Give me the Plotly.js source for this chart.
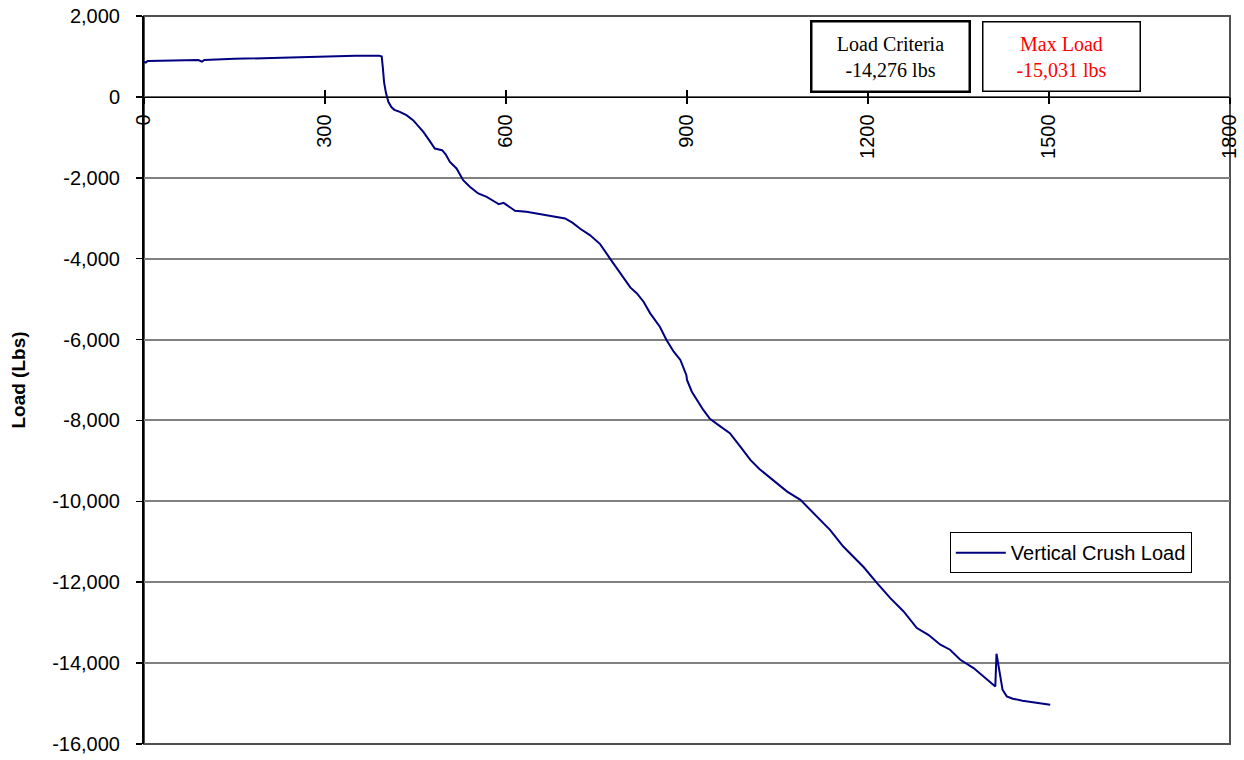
<!DOCTYPE html>
<html>
<head>
<meta charset="utf-8">
<script src="https://cdn.plot.ly/plotly-3.0.1.min.js"></script>
<style>
  html, body { margin: 0; padding: 0; background: #ffffff; }
  #chart { width: 1244px; height: 760px; }
</style>
</head>
<body>
<div id="chart"></div>
<script>
// Elapsed sample (x) and measured vertical crush load (lbs)
const timeValues = [
  0, 3, 6, 50, 90, 96, 100, 150, 200, 250, 300, 350, 390,
  394, 396, 398, 401, 405, 410, 415, 424, 435, 446, 457, 463, 474, 482, 494, 500,
  507, 518, 529, 540, 554, 568, 580, 588, 596, 605, 615, 634, 651, 678,
  698, 710, 723, 739, 756, 773, 786, 797, 806, 817, 828, 839, 855, 866,
  878, 889, 897, 899, 900, 908, 927, 938, 950, 971, 990, 1005, 1020,
  1038, 1050, 1066, 1088, 1110, 1137, 1159, 1176, 1193, 1215, 1237,
  1259, 1281, 1300, 1320, 1336, 1353, 1375, 1391, 1408, 1411, 1413,
  1419, 1423, 1430, 1440, 1456, 1472, 1490, 1502
];
const loadValues = [
  864, 850, 890, 900, 910, 870, 915, 940, 960, 985, 1000, 1015, 1020,
  1000, 700, 350, 100, -120, -250, -320, -371, -453, -576, -760, -866, -1100, -1276, -1318, -1420,
  -1607, -1770, -2059, -2220, -2387, -2471, -2580, -2652, -2619, -2720, -2817, -2842, -2882, -2948,
  -3005, -3110, -3260, -3417, -3640, -4010, -4280, -4529, -4710, -4860, -5065, -5352, -5683, -6011,
  -6300, -6505, -6820, -6880, -7000, -7289, -7741, -7960, -8090, -8316, -8680, -8976, -9200,
  -9428, -9580, -9759, -9963, -10292, -10705, -11117, -11380, -11630, -12022, -12393,
  -12723, -13134, -13300, -13546, -13669, -13917, -14122, -14329, -14535, -14576, -13768,
  -14245, -14657, -14822, -14880, -14928, -14962, -14995, -15031
];
const seriesName = "Vertical Crush Load";
const xTickValues = [0, 300, 600, 900, 1200, 1500, 1800];
const yTickValues = [2000, 0, -2000, -4000, -6000, -8000, -10000, -12000, -14000, -16000];
const yTickLabels = ["2,000", "0", "-2,000", "-4,000", "-6,000", "-8,000", "-10,000", "-12,000", "-14,000", "-16,000"];
const yTitle = "Load (Lbs)";
const criteriaLabel = "Load Criteria<br>-14,276 lbs";
const maxLoadLabel = "Max Load<br>-15,031 lbs";

const traces = [
  {
    x: timeValues, y: loadValues, type: "scatter", mode: "lines",
    name: seriesName, xaxis: "x", yaxis: "y",
    line: { color: "#000080", width: 2 }, hoverinfo: "skip"
  },
  {
    x: timeValues, y: loadValues, type: "scatter", mode: "lines",
    xaxis: "x2", yaxis: "y", showlegend: false, opacity: 0,
    line: { color: "#000080", width: 0 }, hoverinfo: "skip"
  }
];

const yPos = 16000 / 18000;

const layout = {
  width: 1244, height: 760,
  margin: { l: 144, r: 14, t: 16, b: 16 },
  paper_bgcolor: "#ffffff", plot_bgcolor: "#ffffff",
  font: { family: "Liberation Sans, Arial, sans-serif", size: 20, color: "#000000" },
  showlegend: true,
  xaxis: {
    range: [0, 1800], tickvals: xTickValues, tickformat: "d",
    tickangle: -90, anchor: "free", position: yPos,
    showgrid: false, zeroline: false,
    showline: true, linecolor: "#000000", linewidth: 1.5,
    ticks: "outside", ticklen: 6, tickwidth: 1.5, tickcolor: "#000000",
    tickfont: { size: 20 }, ticklabelstandoff: 2
  },
  xaxis2: {
    range: [0, 1800], tickvals: xTickValues, overlaying: "x",
    anchor: "free", position: yPos, side: "bottom",
    showgrid: false, zeroline: false, showline: false, showticklabels: false,
    ticks: "inside", ticklen: 7, tickwidth: 1.5, tickcolor: "#000000"
  },
  yaxis: {
    range: [-16000, 2000], tickvals: yTickValues, ticktext: yTickLabels,
    showgrid: true, gridcolor: "#808080", gridwidth: 2,
    zeroline: true, zerolinecolor: "#606060", zerolinewidth: 2,
    showline: true, linecolor: "#000000", linewidth: 2,
    ticks: "outside", ticklen: 6, tickwidth: 1.5, tickcolor: "#000000",
    tickfont: { size: 20 }, ticklabelstandoff: 12,
    title: { text: yTitle, font: { size: 19, family: "Liberation Sans, Arial, sans-serif", weight: "bold" }, standoff: 22 },
    automargin: false
  },
  legend: {
    x: 0.742, y: 0.291, xanchor: "left", yanchor: "top",
    bgcolor: "#ffffff", bordercolor: "#000000", borderwidth: 1,
    font: { size: 20 }, itemwidth: 50, entrywidth: 250, tracegroupgap: 0
  },
  shapes: [
    { type: "rect", xref: "paper", yref: "paper", x0: 0, x1: 1, y0: 0, y1: 1,
      line: { color: "#505050", width: 2 }, layer: "below" }
  ],
  annotations: [
    { xref: "paper", yref: "paper", x: 0.6877, y: 0.944, xanchor: "center", yanchor: "middle",
      text: criteriaLabel, showarrow: false, align: "center",
      font: { family: "Liberation Serif, Times New Roman, serif", size: 20, color: "#000000" },
      bgcolor: "#ffffff", bordercolor: "#000000", borderwidth: 2.5, borderpad: 3,
      width: 150, height: 62 },
    { xref: "paper", yref: "paper", x: 0.8453, y: 0.944, xanchor: "center", yanchor: "middle",
      text: maxLoadLabel, showarrow: false, align: "center",
      font: { family: "Liberation Serif, Times New Roman, serif", size: 20, color: "#ff0000" },
      bgcolor: "#ffffff", bordercolor: "#000000", borderwidth: 1.5, borderpad: 3,
      width: 150, height: 62 }
  ]
};

Plotly.newPlot("chart", traces, layout, { staticPlot: true, displayModeBar: false });
</script>
</body>
</html>
